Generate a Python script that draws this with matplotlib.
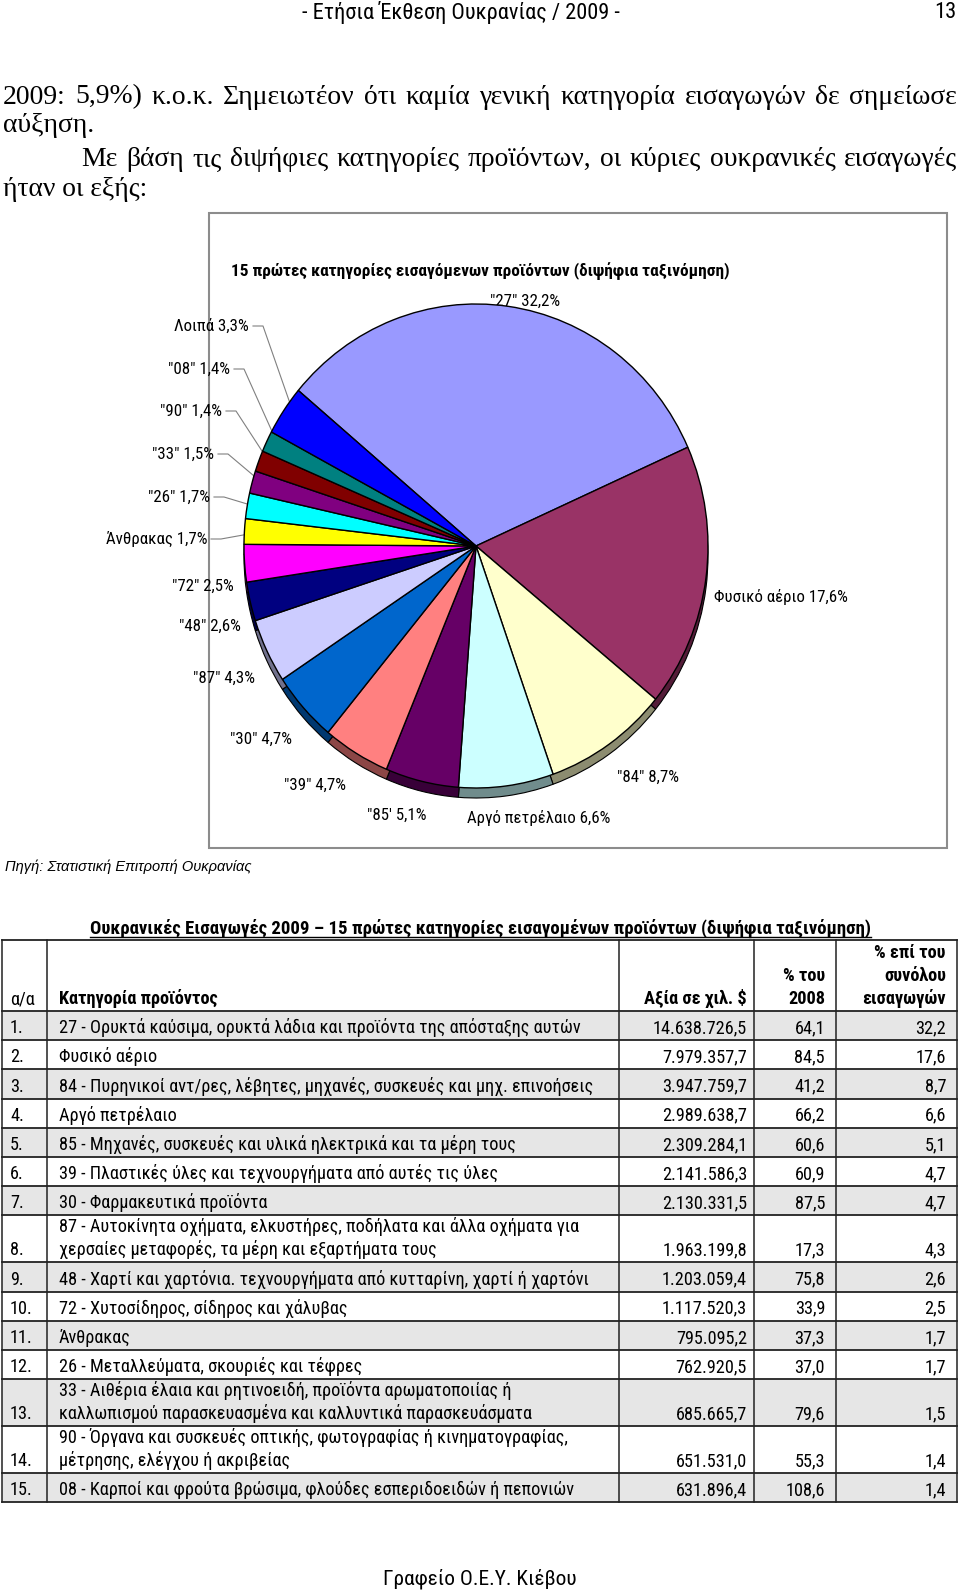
import matplotlib
matplotlib.use("Agg")
import matplotlib.pyplot as plt
from matplotlib import font_manager as fm
from matplotlib.patches import Rectangle
import numpy as np
import matplotlib.colors as mcolors

# ---------------- data ----------------
header_title = "- Ετήσια Έκθεση Ουκρανίας / 2009 -"
page_no = "13"
para_lines = [
    "2009: 5,9%) κ.ο.κ. Σημειωτέον ότι καμία γενική κατηγορία εισαγωγών δε σημείωσε",
    "αύξηση.",
    "Με βάση τις διψήφιες κατηγορίες προϊόντων, οι κύριες ουκρανικές εισαγωγές",
    "ήταν οι εξής:",
]
chart_title = "15 πρώτες κατηγορίες εισαγόμενων προϊόντων (διψήφια ταξινόμηση)"
pie_labels = ['"27"', 'Φυσικό αέριο', '"84"', 'Αργό πετρέλαιο', '"85\'', '"39"', '"30"',
              '"87"', '"48"', '"72"', 'Άνθρακας', '"26"', '"33"', '"90"', '"08"', 'Λοιπά']
pie_values = [32.2, 17.6, 8.7, 6.6, 5.1, 4.7, 4.7, 4.3, 2.6, 2.5, 1.7, 1.7, 1.5, 1.4, 1.4, 3.3]
pie_colors = ['#9999FF', '#993366', '#FFFFCC', '#CCFFFF', '#660066', '#FF8080', '#0066CC',
              '#CCCCFF', '#000080', '#FF00FF', '#FFFF00', '#00FFFF', '#800080', '#800000',
              '#008080', '#0000FF']
source_text = "Πηγή: Στατιστική Επιτροπή Ουκρανίας"

table_title = "Ουκρανικές Εισαγωγές 2009 – 15 πρώτες κατηγορίες εισαγομένων προϊόντων (διψήφια ταξινόμηση)"
col_headers = ["α/α", "Κατηγορία προϊόντος", "Αξία σε χιλ. $", "% του\n2008", "% επί του\nσυνόλου\nεισαγωγών"]
ranks = [f"{i}." for i in range(1, 16)]
categories = [
    "27 - Ορυκτά καύσιμα, ορυκτά λάδια και προϊόντα της απόσταξης αυτών",
    "Φυσικό αέριο",
    "84 - Πυρηνικοί αντ/ρες, λέβητες, μηχανές, συσκευές και μηχ. επινοήσεις",
    "Αργό πετρέλαιο",
    "85 - Μηχανές, συσκευές και υλικά ηλεκτρικά και τα μέρη τους",
    "39 - Πλαστικές ύλες και τεχνουργήματα από αυτές τις ύλες",
    "30 - Φαρμακευτικά προϊόντα",
    "87 - Αυτοκίνητα οχήματα, ελκυστήρες, ποδήλατα και άλλα οχήματα για\nχερσαίες μεταφορές, τα μέρη και εξαρτήματα τους",
    "48 - Χαρτί και χαρτόνια. τεχνουργήματα από κυτταρίνη, χαρτί ή χαρτόνι",
    "72 - Χυτοσίδηρος, σίδηρος και χάλυβας",
    "Άνθρακας",
    "26 - Μεταλλεύματα, σκουριές και τέφρες",
    "33 - Αιθέρια έλαια και ρητινοειδή, προϊόντα αρωματοποιίας ή\nκαλλωπισμού παρασκευασμένα και καλλυντικά παρασκευάσματα",
    "90 - Όργανα και συσκευές οπτικής, φωτογραφίας ή κινηματογραφίας,\nμέτρησης, ελέγχου ή ακριβείας",
    "08 - Καρποί και φρούτα βρώσιμα, φλούδες εσπεριδοειδών ή πεπονιών",
]
values_k = [14638726.5, 7979357.7, 3947759.7, 2989638.7, 2309284.1, 2141586.3, 2130331.5,
            1963199.8, 1203059.4, 1117520.3, 795095.2, 762920.5, 685665.7, 651531.0, 631896.4]
pct_2008 = [64.1, 84.5, 41.2, 66.2, 60.6, 60.9, 87.5, 17.3, 75.8, 33.9, 37.3, 37.0, 79.6, 55.3, 108.6]
share = [32.2, 17.6, 8.7, 6.6, 5.1, 4.7, 4.7, 4.3, 2.6, 2.5, 1.7, 1.7, 1.5, 1.4, 1.4]
footer_text = "Γραφείο Ο.Ε.Υ. Κιέβου"

# ---------------- fonts ----------------
names = {f.name for f in fm.fontManager.ttflist}
narrow_pref = ['Liberation Sans Narrow', 'Arial Narrow', 'Roboto Condensed', 'Open Sans Condensed',
               'Fira Sans Condensed', 'Ubuntu Condensed', 'Sofia Sans Condensed',
               'Noto Sans Display', 'Liberation Sans']
NARROW = [n for n in narrow_pref if n in names][:1] + ['DejaVu Sans']
SERIF = ['Liberation Serif', 'DejaVu Serif']
SANS = ['Liberation Sans', 'DejaVu Sans']

def gr(v, d=1):
    s = f"{v:,.{d}f}"
    return s.replace(',', '#').replace('.', ',').replace('#', '.')

# ---------------- figure ----------------
W, H = 960, 1593
fig = plt.figure(figsize=(W / 100, H / 100), dpi=100)
bg = fig.add_axes([0, 0, 1, 1])
bg.set_xlim(0, W)
bg.set_ylim(H, 0)
bg.axis('off')
renderer = fig.canvas.get_renderer()

def width_of(t):
    return t.get_window_extent(renderer=renderer).width

def fit_size(text, target, base=12, **kw):
    t = bg.text(0, 0, text, fontsize=base, **kw)
    w = width_of(t)
    t.remove()
    return base * target / w

# sizes fitted to the reference text widths (pixels)
fs_head = fit_size(header_title, 319, family=NARROW)
fs_lab = fit_size('Φυσικό αέριο 17,6%', 134, family=NARROW)
fs_ctitle = fit_size(chart_title, 497, family=NARROW, fontweight='bold')
fs_ttitle = fit_size(table_title, 781, family=NARROW, fontweight='bold')
fs_tab = fit_size(categories[0], 522, family=NARROW)
fs_foot = fit_size(footer_text, 194, family=NARROW)
fs_par = fit_size(para_lines[0], 930, family=SERIF)
fs_src = fit_size(source_text, 245, family=SANS, style='italic')

# header
bg.text(461, 13, header_title, family=NARROW, fontsize=fs_head, ha='center', va='center')
bg.text(956, 13, page_no, family=NARROW, fontsize=fs_head, ha='right', va='center')

# paragraph (justified lines)
def justify(x0, x1, y, text, **kw):
    words = text.split(' ')
    objs = [bg.text(0, y, w, va='center', **kw) for w in words]
    ws = [width_of(o) for o in objs]
    gap = (x1 - x0 - sum(ws)) / (len(words) - 1)
    x = x0
    for o, w in zip(objs, ws):
        o.set_x(x)
        x += w + gap

pkw = dict(family=SERIF, fontsize=fs_par)
justify(3, 957, 97, para_lines[0], **pkw)
bg.text(3, 125, para_lines[1], va='center', **pkw)
justify(81, 957, 160, para_lines[2], **pkw)
bg.text(3, 190, para_lines[3], va='center', **pkw)

# chart frame
bg.add_patch(Rectangle((209, 213), 738, 635, fill=False, edgecolor='#8c8c8c', lw=1.5))
bg.text(480, 271, chart_title, family=NARROW, fontsize=fs_ctitle, fontweight='bold',
        ha='center', va='center')

# pie
cx, cy, rx, ry = 476, 546, 232, 242
pax = fig.add_axes([(cx - rx) / W, 1 - (cy + ry) / H, 2 * rx / W, 2 * ry / H])
def darker(c, f=0.55):
    r, g, b = mcolors.to_rgb(c)
    return (r * f, g * f, b * f)
depth = 10 / ry
pax.pie(pie_values, colors=[darker(c) for c in pie_colors], startangle=140, counterclock=False,
        center=(0, -depth), wedgeprops=dict(edgecolor='black', linewidth=0.8))
wedges, _ = pax.pie(pie_values, colors=pie_colors, startangle=140, counterclock=False,
                    wedgeprops=dict(edgecolor='black', linewidth=1.0))
pax.set_aspect('auto')
pax.set_xlim(-1, 1)
pax.set_ylim(-1, 1)
pax.axis('off')

# pie labels (layout positions in page pixels)
label_layout = [(525, 301, 'center'), (714, 597, 'left'), (648, 777, 'center'),
                (539, 818, 'center'), (397, 815, 'center'), (315, 785, 'center'),
                (261, 739, 'center'), (255, 678, 'right'), (241, 626, 'right'),
                (234, 586, 'right'), (207, 539, 'right'), (210, 497, 'right'),
                (214, 454, 'right'), (222, 411, 'right'), (230, 369, 'right'),
                (249, 326, 'right')]
leader = [False] * 10 + [True] * 6
to_bg = pax.transData + bg.transData.inverted()
for lab, val, (lx, ly, ha), w, ld in zip(pie_labels, pie_values, label_layout, wedges, leader):
    bg.text(lx, ly, f"{lab} {gr(val)}%", family=NARROW, fontsize=fs_lab, ha=ha, va='center')
    if ld:
        th = np.deg2rad((w.theta1 + w.theta2) / 2)
        tx, ty = to_bg.transform((0.94 * np.cos(th), 0.94 * np.sin(th)))
        bg.plot([lx + 4, lx + 14, tx], [ly, ly, ty], color='#808080', lw=0.8)

# source
bg.text(5, 867, source_text, family=SANS, style='italic', fontsize=fs_src, ha='left', va='center')

# table title (underlined)
tt = bg.text(480, 928, table_title, family=NARROW, fontsize=fs_ttitle, fontweight='bold',
             ha='center', va='center')
tw = width_of(tt)
bg.plot([480 - tw / 2, 480 + tw / 2], [937, 937], color='black', lw=1)

# table
col_x = [2, 47, 619, 754, 836, 957]
top = 940
header_h = 71
row_h = [47 if '\n' in c else 29.2 for c in categories]
edges = [top, top + header_h]
for h in row_h:
    edges.append(edges[-1] + h)
for i in range(15):
    if i % 2 == 0:
        bg.add_patch(Rectangle((col_x[0], edges[i + 1]), col_x[-1] - col_x[0], row_h[i],
                               facecolor='#e6e6e6', edgecolor='none'))
for y in edges:
    bg.plot([col_x[0], col_x[-1]], [y, y], color='#222222', lw=1.3)
for x in col_x:
    bg.plot([x, x], [edges[0], edges[-1]], color='#222222', lw=1.1)

tkw = dict(family=NARROW, fontsize=fs_tab, va='baseline')
lh = 23
hb = edges[1] - 7
bg.text(10, hb, col_headers[0], ha='left', **tkw)
bg.text(59, hb, col_headers[1], ha='left', fontweight='bold', **tkw)
bg.text(747, hb, col_headers[2], ha='right', fontweight='bold', **tkw)
for j, line in enumerate(reversed(col_headers[3].split('\n'))):
    bg.text(825, hb - j * lh, line, ha='right', fontweight='bold', **tkw)
for j, line in enumerate(reversed(col_headers[4].split('\n'))):
    bg.text(946, hb - j * lh, line, ha='right', fontweight='bold', **tkw)

for i in range(15):
    b = edges[i + 2] - 7
    bg.text(10, b, ranks[i], ha='left', **tkw)
    for j, line in enumerate(reversed(categories[i].split('\n'))):
        bg.text(59, b - j * lh, line, ha='left', **tkw)
    bg.text(747, b, gr(values_k[i]), ha='right', **tkw)
    bg.text(825, b, gr(pct_2008[i]), ha='right', **tkw)
    bg.text(946, b, gr(share[i]), ha='right', **tkw)

# footer
bg.text(480, 1579, footer_text, family=NARROW, fontsize=fs_foot, ha='center', va='center')

fig.savefig('out.png', dpi=100)
